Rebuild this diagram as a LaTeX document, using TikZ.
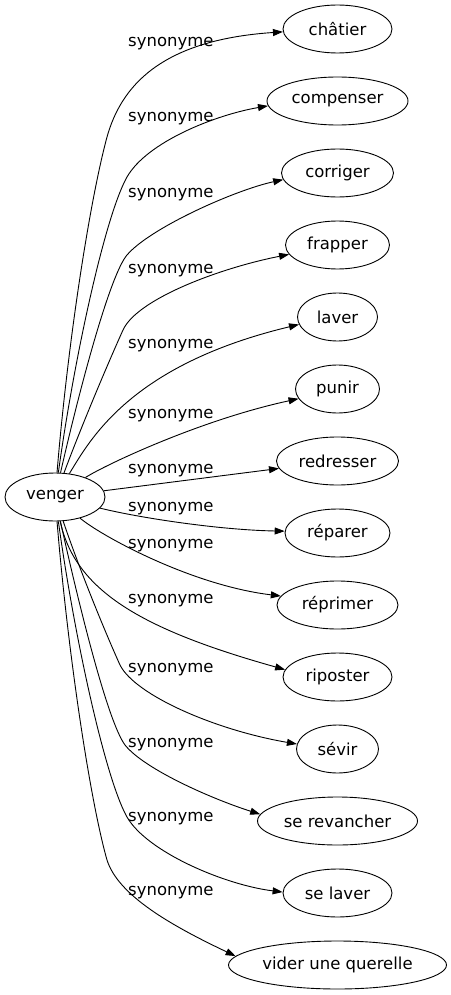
\documentclass[tikz,border=0pt]{standalone}
\usepackage{fontspec}
\setmainfont{DejaVu Sans}
\usetikzlibrary{shapes.geometric,arrows.meta}

\begin{document}
\begin{tikzpicture}[x=1pt,y=-1pt,
		word/.style={draw,ellipse,inner sep=0pt,minimum height=48pt,line width=0.9pt,font=\fontsize{16.5}{20}\selectfont},
		rel/.style={anchor=base west,inner sep=0pt,font=\fontsize{16.5}{20}\selectfont},
		syn/.style={line width=0.9pt,-{Triangle[length=10pt,width=7pt]}}]
		\useasboundingbox (0,0) rectangle (450,995);
		
		% centre word
		\node[word,minimum width=100pt] (venger) at (55,497) {venger};
		
		% synonyms
		\node[word,minimum width=109pt] (chatier) at (337.5,29) {châtier};
		\node[word,minimum width=141pt] (compenser) at (337.5,101) {compenser};
		\node[word,minimum width=112pt] (corriger) at (337.5,173) {corriger};
		\node[word,minimum width=104pt] (frapper) at (337.5,245) {frapper};
		\node[word,minimum width=80pt] (laver) at (337.5,317) {laver};
		\node[word,minimum width=84pt] (punir) at (337.5,389) {punir};
		\node[word,minimum width=122pt] (redresser) at (337.5,461) {redresser};
		\node[word,minimum width=105pt] (reparer) at (337.5,533) {réparer};
		\node[word,minimum width=121pt] (reprimer) at (337.5,605) {réprimer};
		\node[word,minimum width=109pt] (riposter) at (337.5,677) {riposter};
		\node[word,minimum width=82pt] (sevir) at (337.5,749) {sévir};
		\node[word,minimum width=160pt] (serevancher) at (337.5,821) {se revancher};
		\node[word,minimum width=109pt] (selaver) at (337.5,893) {se laver};
		\node[word,minimum width=218pt] (vider) at (337.5,965) {vider une querelle};
		
		% edge labels
		\node[rel] (s1) at (128,47) {synonyme};
		\node[rel] (s2) at (128,122) {synonyme};
		\node[rel] (s3) at (128,197) {synonyme};
		\node[rel] (s4) at (128,273) {synonyme};
		\node[rel] (s5) at (128,348) {synonyme};
		\node[rel] (s6) at (128,418) {synonyme};
		\node[rel] (s7) at (128,473) {synonyme};
		\node[rel] (s8) at (128,511) {synonyme};
		\node[rel] (s9) at (128,548) {synonyme};
		\node[rel] (s10) at (128,603) {synonyme};
		\node[rel] (s11) at (128,672) {synonyme};
		\node[rel] (s12) at (128,747) {synonyme};
		\node[rel] (s13) at (128,821) {synonyme};
		\node[rel] (s14) at (128,895) {synonyme};
		
		% upper edges
		\draw[syn] (venger) .. controls (68,340) and (90,200) .. (107,137) .. controls (121,87) and (160,40) .. (chatier.183);
		\draw[syn] (venger) .. controls (74,359) and (105,216) .. (127,177) .. controls (147,142) and (215,115) .. (compenser.184);
		\draw[syn] (venger) .. controls (80,387) and (110,275) .. (127,255) .. controls (150,228) and (235,190) .. (corriger.187);
		\draw[syn] (venger) .. controls (80,430) and (105,370) .. (123,330) .. controls (137,299) and (220,268) .. (frapper.191);
		\draw[syn] (venger) .. controls (90,440) and (130,365) .. (laver.191);
		\draw[syn] (venger) .. controls (105,465) and (200,420) .. (punir.194);
		
		% middle edges
		\draw[syn] (venger) -- (redresser);
		\draw[syn] (venger) .. controls (140,518) and (220,530) .. (reparer.178);
		
		% lower edges
		\draw[syn] (venger) .. controls (100,535) and (190,585) .. (reprimer.171);
		\draw[syn] (venger) .. controls (75,590) and (140,629) .. (riposter.172);
		\draw[syn] (venger) .. controls (78,565) and (102,625) .. (120,665) .. controls (135,695) and (215,730) .. (sevir.173);
		\draw[syn] (venger) .. controls (80,610) and (108,722) .. (125,745) .. controls (145,770) and (215,800) .. (serevancher.175);
		\draw[syn] (venger) .. controls (74,635) and (105,778) .. (127,817) .. controls (147,852) and (225,885) .. (selaver.179);
		\draw[syn] (venger) .. controls (68,654) and (90,800) .. (107,860) .. controls (118,895) and (170,925) .. (vider.175);
	\end{tikzpicture}
\end{document}
